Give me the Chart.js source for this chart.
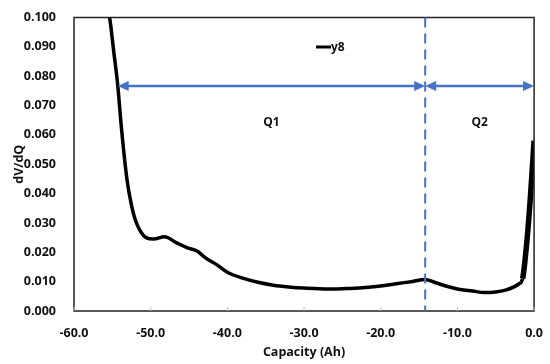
<!DOCTYPE html>
<html>
<head>
<meta charset="utf-8">
<script src="https://cdn.jsdelivr.net/npm/chart.js@4/dist/chart.umd.min.js"></script>
<style>
  html, body { margin: 0; padding: 0; background: #fff; }
  #wrap { width: 550px; height: 364px; }
</style>
</head>
<body>
<div id="wrap"><canvas id="c"></canvas></div>
<script>
// capacity (Ah) and dV/dQ
var capacity = [-55.6, -55.3, -54.8, -54.3, -53.8, -53.1, -52.5, -52.0, -51.4, -50.6, -49.6, -48.2,
    -46.6, -45.2, -44.0, -42.8, -41.4, -40.0, -38.0, -36.0, -34.0, -32.0, -30.0, -28.0, -26.0,
    -24.0, -22.0, -20.0, -18.0, -16.0, -14.2, -13.0, -11.5, -10.0, -8.0, -6.5, -5.0, -3.5, -2.0,
    -1.5, -1.0, -0.5, 0.0];
var dvdq = [0.103, 0.099, 0.088, 0.077, 0.062, 0.045, 0.036, 0.031, 0.0275, 0.025, 0.0245, 0.0253,
    0.0232, 0.0215, 0.0205, 0.018, 0.0158, 0.0132, 0.0112, 0.0098, 0.0088, 0.0082, 0.0078, 0.0076, 0.0075,
    0.0077, 0.008, 0.0085, 0.0093, 0.0100, 0.0107, 0.0098, 0.0085, 0.0075, 0.0068, 0.0063, 0.0065, 0.0073, 0.0092,
    0.011, 0.022, 0.038, 0.058];

var seriesName = 'y8';
var q1Range = [-54.3, -14.2];
var q2Range = [-14.2, 0.0];
var arrowLevel = 0.0767;
var splitAt = -14.2;
var xTicks = [-60, -50, -40, -30, -20, -10, 0];

var blue = '#4472C4';
var font = '"Open Sans", "Liberation Sans", sans-serif';

var points = capacity.map(function(c, i) { return {x: c, y: dvdq[i]}; });

function arrowHead(ctx, x, y, dir) {
    ctx.beginPath();
    ctx.moveTo(x, y);
    ctx.lineTo(x - dir * 11, y - 5);
    ctx.lineTo(x - dir * 11, y + 5);
    ctx.closePath();
    ctx.fill();
}

var extras = {
    id: 'extras',
    afterDatasetsDraw: function(chart) {
        var ctx = chart.ctx;
        var xs = chart.scales.x, ys = chart.scales.y;
        var area = chart.chartArea;
        ctx.save();

        // frame
        ctx.strokeStyle = '#222';
        ctx.lineWidth = 1.5;
        ctx.strokeRect(area.left, area.top, area.right - area.left, area.bottom - area.top);

        // small inward ticks on x axis
        ctx.strokeStyle = '#bbb';
        ctx.lineWidth = 1;
        xTicks.forEach(function(t) {
            var px = xs.getPixelForValue(t);
            ctx.beginPath();
            ctx.moveTo(px, area.bottom);
            ctx.lineTo(px, area.bottom - 4);
            ctx.stroke();
        });

        // dashed split line
        var sx = xs.getPixelForValue(splitAt);
        ctx.strokeStyle = blue;
        ctx.lineWidth = 2;
        ctx.setLineDash([10, 6]);
        ctx.beginPath();
        ctx.moveTo(sx, area.top);
        ctx.lineTo(sx, area.bottom);
        ctx.stroke();
        ctx.setLineDash([]);

        // double arrows
        var ay = ys.getPixelForValue(arrowLevel);
        ctx.fillStyle = blue;
        ctx.lineWidth = 2.5;
        [q1Range, q2Range].forEach(function(r) {
            var a = xs.getPixelForValue(r[0]), b = xs.getPixelForValue(r[1]);
            ctx.beginPath();
            ctx.moveTo(a + 6, ay);
            ctx.lineTo(b - 6, ay);
            ctx.stroke();
            arrowHead(ctx, a, ay, -1);
            arrowHead(ctx, b, ay, 1);
        });

        // labels
        ctx.fillStyle = '#111';
        ctx.font = 'bold 12px ' + font;
        ctx.textAlign = 'center';
        ctx.textBaseline = 'middle';
        ctx.fillText('Q1', xs.getPixelForValue((q1Range[0] + q1Range[1]) / 2), ay + 37);
        ctx.fillText('Q2', xs.getPixelForValue((q2Range[0] + q2Range[1]) / 2), ay + 37);

        // legend
        ctx.strokeStyle = '#000';
        ctx.lineWidth = 3;
        ctx.beginPath();
        ctx.moveTo(316, 47);
        ctx.lineTo(331, 47);
        ctx.stroke();
        ctx.textAlign = 'left';
        ctx.fillText(seriesName, 331, 48);
        ctx.restore();
    }
};

new Chart(document.getElementById('c'), {
    type: 'line',
    data: {
        datasets: [{
            label: seriesName,
            data: points,
            borderColor: '#000',
            borderWidth: 3.5,
            pointRadius: 0,
            fill: false,
            cubicInterpolationMode: 'monotone',
            segment: {
                // the last rise is drawn as a thick band in the original
                borderWidth: function(c) { return c.p0.parsed.x >= -1.5 ? 5.5 : 3.5; }
            }
        }]
    },
    options: {
        responsive: true,
        maintainAspectRatio: false,
        animation: false,
        layout: {padding: {top: 11, right: 15, left: 8, bottom: 0}},
        plugins: {legend: {display: false}, tooltip: {enabled: false}},
        scales: {
            x: {
                type: 'linear',
                min: -60, max: 0,
                grid: {display: false},
                border: {display: false},
                afterFit: function(s) { s.height = 53; },
                afterBuildTicks: function(s) { s.ticks = xTicks.map(function(v) { return {value: v}; }); },
                ticks: {
                    color: '#111',
                    padding: 7,
                    font: {family: font, size: 12.5, weight: 'bold'},
                    maxRotation: 0,
                    callback: function(v) { return v.toFixed(1); }
                },
                title: {display: true, text: 'Capacity (Ah)', color: '#111',
                    font: {family: font, size: 12.5, weight: 'bold'}, padding: {top: 2}}
            },
            y: {
                min: 0, max: 0.1,
                grid: {display: false},
                border: {display: false},
                afterFit: function(s) { s.width = 66; },
                ticks: {
                    stepSize: 0.01,
                    color: '#111',
                    padding: 10,
                    font: {family: font, size: 12.5, weight: 'bold'},
                    callback: function(v) { return v.toFixed(3); }
                },
                title: {display: true, text: 'dV/dQ', color: '#111',
                    font: {family: font, size: 12.5, weight: 'bold'}, padding: {bottom: 2}}
            }
        }
    },
    plugins: [extras]
});
</script>
</body>
</html>
